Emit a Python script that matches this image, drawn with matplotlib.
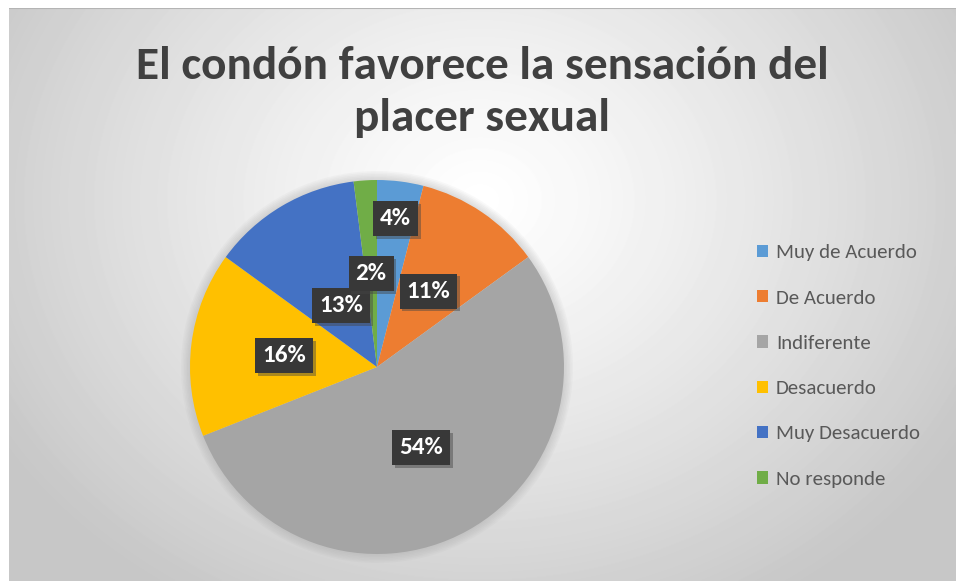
import numpy as np
import matplotlib
matplotlib.use('Agg')
import matplotlib.pyplot as plt
from matplotlib import patheffects
from matplotlib.patches import Circle

# data
categorias = ['Muy de Acuerdo', 'De Acuerdo', 'Indiferente', 'Desacuerdo',
              'Muy Desacuerdo', 'No responde']
porcentajes = [4, 11, 54, 16, 13, 2]
colores = ['#5B9BD5', '#ED7D31', '#A5A5A5', '#FFC000', '#4472C4', '#70AD47']
titulo = 'El condón favorece la sensación del\nplacer sexual'

plt.rcParams['font.family'] = ['Carlito', 'DejaVu Sans']

W, H = 956, 581
fig = plt.figure(figsize=(W / 100, H / 100), dpi=100, facecolor='white')

# grey radial background of the chart area
bg = fig.add_axes([9 / W, 0, 1 - 9 / W, 1 - 8 / H])
yy, xx = np.mgrid[8:H, 9:W]
r = np.hypot(xx - 480, (yy - 200) * 1.2)
r = np.clip(r / 560, 0, 1)
shade = 1.0 - 0.22 * r ** 1.2
bg.imshow(shade, cmap='gray', vmin=0, vmax=1, aspect='auto',
          extent=[0, 1, 0, 1], interpolation='bilinear')
bg.axhline(1, color='#b4b4b4', lw=1.5)
bg.set_xlim(0, 1)
bg.set_ylim(0, 1)
bg.axis('off')

fig.text(482 / W, 1 - 92 / H, titulo, ha='center', va='center',
         fontsize=34, weight='bold', color='#404040', linespacing=1.34)

# pie
cx, cy, rad = 377, 367, 187
ax = fig.add_axes([(cx - rad * 1.05) / W, (H - cy - rad * 1.05) / H,
                   2 * rad * 1.05 / W, 2 * rad * 1.05 / H])
# soft halo round the pie
for k in range(6):
    ax.add_patch(Circle((0, 0), 1 + 0.008 * (k + 1), fc='#9a9a9a', ec='none',
                        alpha=0.06, zorder=0))
wedges, _ = ax.pie(porcentajes, colors=colores, startangle=90, counterclock=False,
                   radius=1, wedgeprops=dict(linewidth=0))
ax.set_xlim(-1.05, 1.05)
ax.set_ylim(-1.05, 1.05)
ax.set_aspect('equal')
ax.axis('off')

radios = [0.8, 0.49, 0.49, 0.5, 0.38, 0.5]
for w, v, rr in zip(wedges, porcentajes, radios):
    ang = np.deg2rad((w.theta1 + w.theta2) / 2)
    t = ax.text(rr * np.cos(ang), rr * np.sin(ang), f'{v}%', ha='center', va='center',
                fontsize=18, weight='bold', color='white',
                bbox=dict(boxstyle='square,pad=0.28', fc='#383838', ec='none'))
    t.get_bbox_patch().set_path_effects([
        patheffects.SimplePatchShadow(offset=(2, -2), shadow_rgbFace='#444444', alpha=0.45),
        patheffects.Normal()])

leg = fig.legend(wedges, categorias, loc='center left',
                 bbox_to_anchor=(757 / W, 1 - 366 / H), frameon=False,
                 fontsize=15, labelcolor='#595959', handlelength=0.55, handleheight=0.55,
                 handletextpad=0.35, labelspacing=1.36, borderaxespad=0, borderpad=0)

fig.savefig('out.png', dpi=100, facecolor='white')
